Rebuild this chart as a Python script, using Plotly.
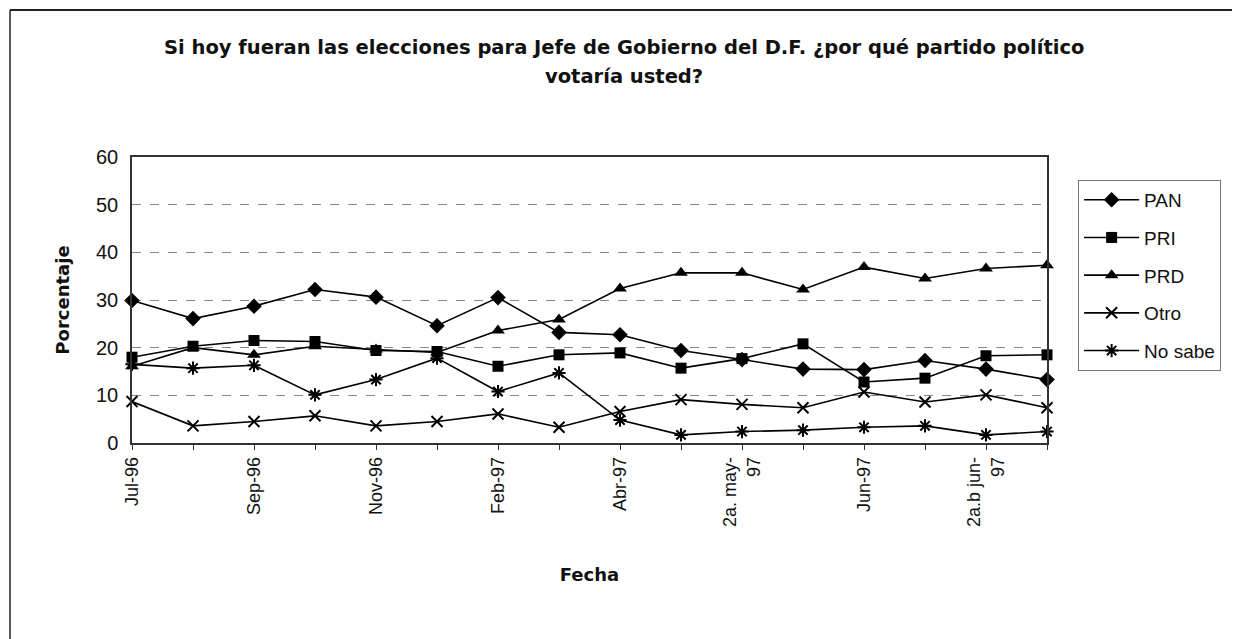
import plotly.graph_objects as go

fechas = ["Jul-96", "Ago-96", "Sep-96", "Oct-96", "Nov-96", "Dic-96", "Feb-97", "Mar-97",
          "Abr-97", "1a. may-97", "2a. may-97", "3a. may-97", "Jun-97", "1a.b jun-97",
          "2a.b jun-97", "3a.b jun-97"]
etiquetas = ["Jul-96", "", "Sep-96", "", "Nov-96", "", "Feb-97", "", "Abr-97", "",
             "2a. may-<br>97", "", "Jun-97", "", "2a.b jun-<br>97", ""]

pan = [29.9, 26.1, 28.7, 32.2, 30.6, 24.6, 30.5, 23.2, 22.7, 19.4, 17.5, 15.5, 15.4, 17.3, 15.5, 13.3]
pri = [18.0, 20.3, 21.5, 21.3, 19.4, 19.2, 16.1, 18.5, 18.9, 15.7, 17.7, 20.8, 12.8, 13.6, 18.3, 18.5]
prd = [16.1, 20.0, 18.5, 20.3, 19.6, 19.0, 23.6, 25.9, 32.4, 35.7, 35.7, 32.2, 36.9, 34.5, 36.6, 37.3]
otro = [8.7, 3.6, 4.5, 5.7, 3.6, 4.5, 6.1, 3.3, 6.6, 9.1, 8.1, 7.4, 10.7, 8.6, 10.1, 7.4]
no_sabe = [16.5, 15.7, 16.3, 10.1, 13.3, 17.8, 10.8, 14.7, 4.8, 1.7, 2.4, 2.7, 3.3, 3.6, 1.7, 2.4]

titulo_1 = "Si hoy fueran las elecciones para Jefe de Gobierno del D.F. ¿por qué partido político"
titulo_2 = "votaría usted?"

series = [
    ("PAN", pan, dict(symbol="diamond", size=12)),
    ("PRI", pri, dict(symbol="square", size=11)),
    ("PRD", prd, dict(symbol="triangle-up", size=12)),
    ("Otro", otro, dict(symbol="x-thin-open", size=11, line=dict(width=2, color="black"))),
    ("No sabe", no_sabe, dict(symbol="asterisk-open", size=11, line=dict(width=2, color="black"))),
]

fig = go.Figure()
for nombre, vals, mk in series:
    fig.add_trace(go.Scatter(
        x=fechas, y=vals, name=nombre, mode="lines+markers",
        line=dict(color="black", width=1.6),
        marker=dict(color="black", **mk),
        cliponaxis=False, legendgroup=nombre,
    ))

font_txt = "Liberation Sans, Arial, sans-serif"
font_tit = dict(family="DejaVu Sans, sans-serif", size=19.5, color="#111")
fig.update_layout(
    width=1240, height=639,
    paper_bgcolor="white", plot_bgcolor="white",
    margin=dict(l=124, r=201, t=149, b=204, autoexpand=False),
    font=dict(family=font_txt, size=18, color="#111"),
    legend=dict(
        x=1.034, y=0.92, xanchor="left", yanchor="top",
        bordercolor="#777", borderwidth=1, bgcolor="white",
        font=dict(size=19, family=font_txt),
        itemwidth=55, tracegroupgap=10,
    ),
    showlegend=True,
)
for texto, ypx in [(titulo_1, 39), (titulo_2, 69)]:
    fig.add_annotation(
        text="<b>" + texto + "</b>", xref="paper", yref="paper",
        x=(616 - 124) / 915, y=(435 - ypx) / 286, xanchor="center", yanchor="middle",
        showarrow=False, font=font_tit,
    )
fig.update_xaxes(
    type="category", range=[0, 15], tickmode="array", tickvals=fechas, ticktext=etiquetas,
    tickangle=-90, ticks="outside", ticklen=5, tickcolor="#333",
    showline=True, linecolor="#333", linewidth=1.5, mirror=True, showgrid=False,
    tickfont=dict(size=18),
    title=dict(text="<b>Fecha</b>", font=dict(size=18, family="DejaVu Sans, sans-serif"), standoff=42),
)
fig.update_yaxes(
    range=[0, 60], dtick=10, ticks="", showline=True, linecolor="#333", linewidth=1.5, mirror=True,
    showgrid=True, gridcolor="#888", griddash="dash", gridwidth=1,
    tickfont=dict(size=20), zeroline=False, ticklabelstandoff=8,
    title=dict(text="<b>Porcentaje</b>", font=dict(size=18, family="DejaVu Sans, sans-serif"), standoff=22),
)
# marco exterior de la página
fig.add_shape(type="line", xref="paper", yref="paper", x0=-0.1333, x1=1.25, y0=1.514, y1=1.514,
              line=dict(color="#222", width=2))
fig.add_shape(type="line", xref="paper", yref="paper", x0=-0.1333, x1=-0.1333, y0=1.514, y1=-0.75,
              line=dict(color="#222", width=1.5))

fig.write_html("out.html")
